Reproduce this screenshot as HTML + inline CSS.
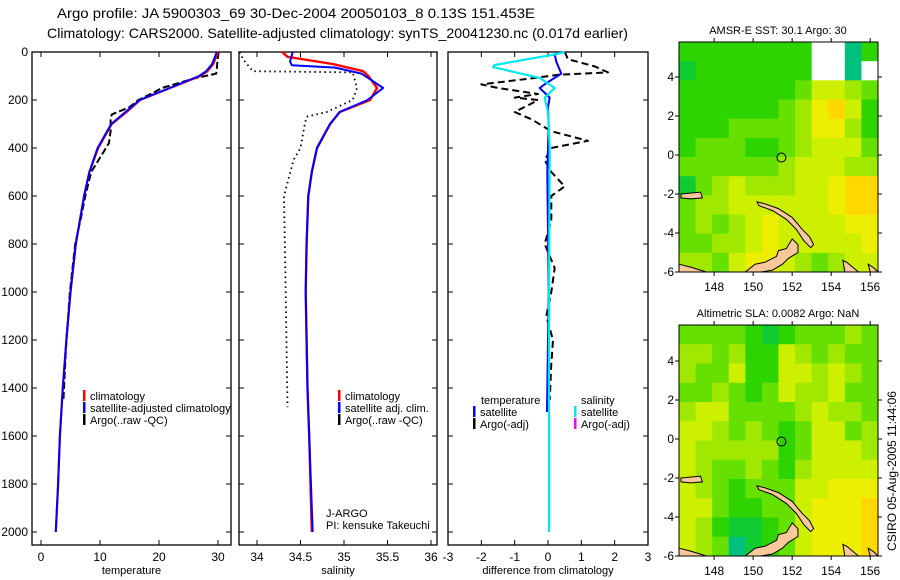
<!DOCTYPE html>
<html><head><meta charset="utf-8">
<style>
html,body{margin:0;padding:0;background:#fff;}
svg{display:block;font-family:"Liberation Sans",sans-serif;}
</style></head>
<body>
<svg id="fig" width="900" height="580" viewBox="0 0 900 580" xmlns="http://www.w3.org/2000/svg">
<text x="57" y="18" font-size="14" textLength="478" lengthAdjust="spacingAndGlyphs">Argo profile: JA 5900303_69 30-Dec-2004 20050103_8 0.13S 151.453E</text>
<text x="47" y="38" font-size="14" textLength="581" lengthAdjust="spacingAndGlyphs">Climatology: CARS2000. Satellite-adjusted climatology: synTS_20041230.nc (0.017d earlier)</text>
<g id="g"></g>
</svg>
<script>
// ---- data ----
const depthTicks=[0,200,400,600,800,1000,1200,1400,1600,1800,2000];
const tempTicks=[0,10,20,30];
const salTicks=[34,34.5,35,35.5,36];
const salTickLabels=["34","34.5","35","35.5","36"];
const diffTicks=[-3,-2,-1,0,1,2,3];
const lonTicks=[148,150,152,154,156];
const latTicks=[4,2,0,-2,-4,-6];

const tDepth=[0,50,80,100,150,200,250,300,400,500,600,800,1000,1200,1400,1600,1800,2000];
const tClim=[30.0,29.2,28.2,27.0,21.9,16.8,14.5,12.0,9.7,8.2,7.3,5.9,5.0,4.3,3.7,3.2,2.9,2.5];
const tSat=[29.8,29.0,28.0,26.8,21.8,16.7,14.3,11.9,9.6,8.2,7.3,5.9,5.0,4.3,3.7,3.2,2.9,2.5];
const aDepth=[0,40,70,90,110,150,170,200,230,260,280,330,380,420,500,600,700,800,1000,1200,1450];
const tArgo=[30.1,29.9,29.8,29.7,26.0,20.5,19.0,16.5,15.0,12.0,11.8,11.8,11.5,10.5,8.5,7.5,6.7,5.8,4.9,4.3,3.8];

const sDepth=[0,20,50,80,100,150,200,250,300,400,500,600,800,1000,1400,1600,2000];
const sClim=[34.29,34.35,34.87,35.22,35.28,35.38,35.3,34.95,34.84,34.69,34.63,34.59,34.57,34.56,34.58,34.6,34.63];
const sSatD=[0,40,55,65,90,150,200,250,300,400,500,600,800,1000,1400,1600,2000];
const sSat=[34.41,34.38,34.4,34.9,35.2,35.45,35.27,34.95,34.84,34.69,34.63,34.59,34.57,34.56,34.58,34.6,34.64];
const sArgoD=[0,30,80,85,150,200,250,270,300,400,450,600,1000,1480];
const sArgo=[33.8,33.84,33.95,35.1,35.15,35.1,34.8,34.57,34.55,34.5,34.42,34.31,34.33,34.35];

const dTD=[0,10,40,90,130,150,190,230,300,500,1000,1500];
const dTSat=[0.5,0.2,0.25,0.4,-0.05,-0.25,0.05,0,0.02,-0.02,0.02,-0.03];
const dSD=[0,10,54,63,108,150,190,250,400,1000,1500,2000];
const dSSat=[0.5,0.2,-1.6,-1.65,-0.25,0.2,-0.1,0,0.05,0.03,0.03,0.03];
const dAD=[0,30,60,85,95,110,135,150,175,190,200,215,250,280,330,370,400,450,500,560,600,700,800,900,1000,1100,1200,1300,1450];
const dArgo=[0.5,0.6,1.4,1.8,0.3,-0.5,-2.0,-1.5,-0.3,-1.0,-0.3,-0.5,-1.0,-0.5,0.1,1.2,0.1,-0.1,0.1,0.5,0.1,0.1,-0.1,0.2,0.1,-0.05,0.15,0.1,0.05];

// map grids: 12 rows (lat 5.9 -> -6.1), 12 cols (lon 146.2 -> 156.4); -1 = no data
const sstGrid=[
[3,3,3,3,3,3,3,3,-1,-1,1,3],
[2,3,3,3,3,3,3,3,-1,-1,1,-1],
[3,3,3,3,3,3,3,4,6,6,5,4],
[3,3,3,3,3,3,4,5,7,8,6,3],
[3,3,3,4,4,4,4,5,7,7,5,3],
[3,4,4,4,3,3,4,5,6,6,6,4],
[4,4,4,4,4,4,5,6,6,6,5,5],
[2,4,5,6,5,5,5,6,6,7,8,8],
[4,5,5,6,6,6,6,6,6,7,8,8],
[4,5,4,5,6,7,6,6,6,6,7,7],
[4,4,5,5,6,7,6,6,6,6,6,7],
[5,5,4,6,7,7,6,5,4,5,6,6]];
const slaGrid=[
[4,4,4,4,3,2,3,4,4,4,5,4],
[5,5,4,5,3,3,6,5,4,5,4,4],
[5,4,4,6,3,3,6,6,5,6,5,4],
[4,4,5,4,3,4,6,5,5,6,4,4],
[5,6,6,4,4,4,4,5,6,5,5,4],
[6,6,5,4,5,4,3,4,6,6,4,5],
[6,5,5,5,5,5,3,4,6,6,6,5],
[6,5,4,4,5,4,3,5,6,6,6,6],
[6,5,4,3,4,4,4,6,6,7,7,7],
[6,6,4,3,3,4,4,6,7,7,7,8],
[6,5,3,2,2,3,4,6,7,7,7,8],
[6,5,4,1,2,3,4,6,7,7,7,8]];
const palette=["#00b480","#00c080","#10cc30","#2ed400","#66e000","#a0e800","#ccf000","#eeee00","#ffd800","#ffc000"];
const land=[
[[149.6,-6.3],[150.1,-5.6],[150.6,-5.5],[151.2,-5.2],[151.3,-4.9],[151.7,-4.8],[152.0,-4.3],[152.3,-4.6],[152.3,-5.0],[151.8,-5.3],[151.5,-5.6],[151,-5.9],[150.4,-6.1],[150.2,-6.3]],
[[150.2,-2.4],[150.6,-2.5],[151.3,-2.75],[152.0,-3.2],[152.5,-3.8],[152.9,-4.2],[153.1,-4.6],[152.95,-4.75],[152.6,-4.4],[152.2,-3.8],[151.7,-3.3],[151.0,-2.85],[150.3,-2.6]],
[[146.3,-2.0],[147.3,-1.9],[147.4,-2.2],[146.8,-2.25],[146.3,-2.2]],
[[146.2,-5.6],[146.8,-5.75],[147.6,-6.3],[146.2,-6.3]],
[[154.6,-5.4],[154.8,-5.5],[155.4,-6.0],[155.6,-6.3],[154.7,-6.3]],
[[155.9,-5.6],[156.2,-5.8],[156.4,-6.0],[156.4,-6.3],[156.0,-6.3]]];
const argoLon=151.45, argoLat=-0.13;

// ---- drawing ----
const NS="http://www.w3.org/2000/svg";
const G=document.getElementById('g');
function mk(tag,attrs,parent){const e=document.createElementNS(NS,tag);for(const k in attrs)e.setAttribute(k,attrs[k]);(parent||G).appendChild(e);return e;}
function txt(s,x,y,size,anchor,parent){const t=mk('text',{x:x,y:y,'font-size':size,'text-anchor':anchor||'start'},parent);t.textContent=s;return t;}
const yD=d=>52+d*0.24;
const PB=545;
const xT=v=>41+v*5.9;
const xS=v=>257+(v-34)*87;
const xDf=v=>548+v*33.33;

function panel(name,x0,x1,xs,ticks,labels,title){
  const g=mk('g',{});
  
  
  const r=mk('rect',{x:x0,y:52,width:x1-x0,height:PB-52,fill:'none',stroke:'#000','stroke-width':1.3},g);
  
  
  ticks.forEach((t,i)=>{const x=xs(t);
    mk('line',{x1:x,x2:x,y1:PB,y2:PB-5,stroke:'#000'},g);
    mk('line',{x1:x,x2:x,y1:52,y2:57,stroke:'#000'},g);
    const l=txt(labels[i],x,561,12,'middle',g);
    
    });
  depthTicks.forEach(d=>{const y=yD(d);
    mk('line',{x1:x0,x2:x0+5,y1:y,y2:y,stroke:'#000'},g);
    mk('line',{x1:x1,x2:x1-5,y1:y,y2:y,stroke:'#000'},g);});
  const at=txt(title,(x0+x1)/2,574,11,'middle',g);
  
  
  return g;
}
function line(g,name,ds,vs,xs,color,w,dash){
  const pts=ds.map((d,i)=>xs(vs[i]).toFixed(1)+','+yD(d).toFixed(1)).join(' ');
  const p=mk('polyline',{points:pts,fill:'none',stroke:color,'stroke-width':w,'stroke-dasharray':dash||'none','stroke-linejoin':'round'},g);
  
  
  return p;
}
function legend(g,x,y,items){
  items.forEach((it,i)=>{
    const b=mk('rect',{x:x,y:y+i*12-10,width:2.5,height:11,fill:it[1]},g);
    
    
    const t=txt(it[0],x+7,y+i*12,11,'start',g);
    
    
  });
}
// panel 1
const p1=panel('temperature-panel',32,231,xT,tempTicks,tempTicks.map(String),'temperature');
depthTicks.forEach(d=>{const l=txt(String(d),28,yD(d)+4,12,'end',p1);
  
  });
line(p1,'temperature-argo-line',aDepth,tArgo,xT,'#000',2,'7,3');
line(p1,'temperature-climatology-line',tDepth,tClim,xT,'#ff0000',2.2);
line(p1,'temperature-satellite-line',tDepth,tSat,xT,'#0000ff',2);
legend(p1,83,400,[['climatology','#f00'],['satellite-adjusted climatology','#00f'],['Argo(..raw -QC)','#000']]);
// panel 2
const p2=panel('salinity-panel',239,437,xS,salTicks,salTickLabels,'salinity');
line(p2,'salinity-argo-line',sArgoD,sArgo,xS,'#000',1.8,'1.5,3.5');
line(p2,'salinity-climatology-line',sDepth,sClim,xS,'#ff0000',2.4);
line(p2,'salinity-satellite-line',sSatD,sSat,xS,'#0000ff',2);
legend(p2,338,400,[['climatology','#f00'],['satellite adj. clim.','#00f'],['Argo(..raw -QC)','#000']]);
const j1=txt('J-ARGO',326,517,11,'start',p2);
const j2=txt('PI: kensuke Takeuchi',326,529,11,'start',p2);
// panel 3
const p3=panel('difference-panel',448,648,xDf,diffTicks,diffTicks.map(String),'difference from climatology');
line(p3,'diff-argo-temperature-line',dAD,dArgo,xDf,'#000',2,'7,4');
line(p3,'diff-temperature-satellite-line',dTD,dTSat,xDf,'#0000ff',2);
line(p3,'diff-salinity-satellite-line',dSD,dSSat,xDf,'#00e8f0',2.2);
const lt=txt('temperature',481,404,11,'start',p3);
legend(p3,473,416,[['satellite','#00f'],['Argo(-adj)','#000']]);
const ls=txt('salinity',581,404,11,'start',p3);
legend(p3,574,416,[['satellite','#00e8f0'],['Argo(-adj)','#ff00ff']]);

// maps
function map(name,grid,top,bot,lat4y,title){
  const g=mk('g',{});
  
  
  const L=679,R=878,lon0=146.2,lon1=156.4;
  const xm=lon=>L+(lon-lon0)*(R-L)/(lon1-lon0);
  const sc=(bot-lat4y)/10;
  const ym=lat=>lat4y-(lat-4)*sc;
  const cw=(R-L)/12, ch=(bot-top)/12;
  grid.forEach((row,r)=>row.forEach((v,c)=>{
    const cell=mk('rect',{x:L+c*cw,y:top+r*ch,width:cw+0.5,height:ch+0.5,fill:v<0?'#fff':palette[v]},g);
    
    
  }));
  land.forEach(poly=>{const p=mk('polygon',{points:poly.map(q=>xm(q[0]).toFixed(1)+','+Math.min(bot,ym(q[1])).toFixed(1)).join(' '),fill:'#f9c898',stroke:'#000','stroke-width':1},g);
    
    });
  const c=mk('circle',{cx:xm(argoLon),cy:ym(argoLat),r:4.5,fill:'none',stroke:'#000','stroke-width':1},g);
  
  
  mk('rect',{x:L,y:top,width:R-L,height:bot-top,fill:'none',stroke:'#000','stroke-width':1},g);
  latTicks.forEach(t=>{const y=ym(t);
    mk('line',{x1:L,x2:L-4,y1:y,y2:y,stroke:'#000'},g);
    mk('line',{x1:R,x2:R+4,y1:y,y2:y,stroke:'#000'},g);
    const l=txt(String(t),674,y+4,12,'end',g);
    
    });
  lonTicks.forEach(t=>{const x=xm(t);
    mk('line',{x1:x,x2:x,y1:bot,y2:bot+4,stroke:'#000'},g);
    mk('line',{x1:x,x2:x,y1:top,y2:top-4,stroke:'#000'},g);
    const l=txt(String(t),x,bot+19,12,'middle',g);
    
    });
  const tt=txt(title,778,top-8,11,'middle',g);
  
  
}
map('sst-map',sstGrid,42,272,77,'AMSR-E SST: 30.1 Argo: 30');
map('sla-map',slaGrid,325,556,361,'Altimetric SLA: 0.0082 Argo: NaN');
const cs=txt('CSIRO 05-Aug-2005 11:44:06',0,0,12,'middle');
cs.setAttribute('transform','translate(896,471) rotate(-90)');


</script>
</body></html>
